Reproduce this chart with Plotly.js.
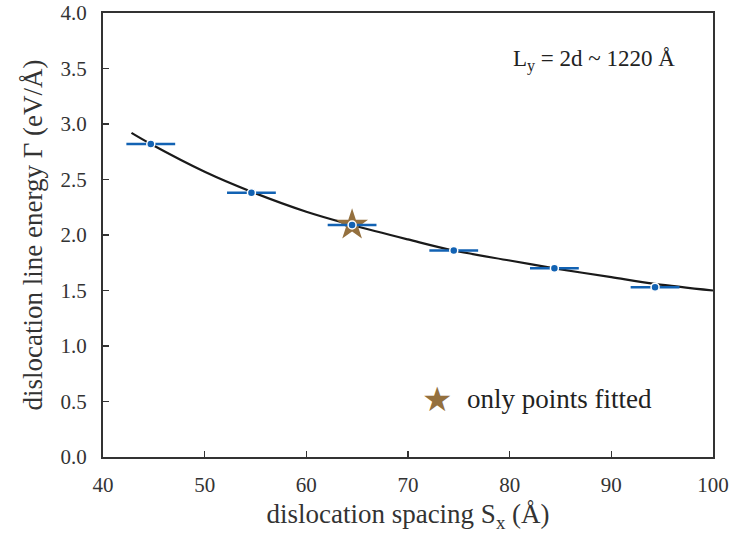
<!DOCTYPE html>
<html>
<head>
<meta charset="utf-8">
<script src="https://cdn.plot.ly/plotly-3.0.1.min.js"></script>
<style>html,body{margin:0;padding:0;background:#fff;}#chart{width:755px;height:534px;}</style>
</head>
<body>
<div id="chart"></div>
<script>
// measured data points
const spacing = [44.7, 54.6, 64.5, 74.5, 84.4, 94.3];
const energy = [2.82, 2.38, 2.09, 1.86, 1.70, 1.53];
const spacingErr = [2.4, 2.4, 2.4, 2.4, 2.4, 2.4];
// fitted curve
const fitX = [42.8, 44.7, 50, 54.6, 60, 64.5, 70, 74.5, 80, 84.4, 90, 94.3, 100];
const fitY = [2.92, 2.82, 2.57, 2.39, 2.21, 2.09, 1.96, 1.86, 1.77, 1.70, 1.62, 1.56, 1.50];
// point used in the "only points fitted" fit
const starX = [64.5];
const starY = [2.09];

const serif = 'Liberation Serif';
const blue = '#1262b3';
const brown = '#94703e';

const traces = [
  {x: fitX, y: fitY, mode: 'lines', line: {color: '#1a1a1a', width: 2.2, shape: 'spline'}, hoverinfo: 'skip'},
  {x: starX, y: starY, mode: 'markers', marker: {symbol: 'star', size: 24, color: brown}},
  {x: spacing, y: energy, mode: 'markers',
   marker: {color: blue, size: 8, line: {color: '#ffffff', width: 1.5}},
   error_x: {type: 'data', array: spacingErr, visible: true, color: blue, thickness: 2.5, width: 0}}
];

const layout = {
  width: 755, height: 534,
  margin: {l: 103, r: 42, t: 13, b: 77},
  paper_bgcolor: '#fff', plot_bgcolor: '#fff',
  showlegend: false,
  font: {family: serif, color: '#333'},
  xaxis: {
    range: [40, 100], dtick: 10, tick0: 40,
    showgrid: false, zeroline: false,
    showline: true, mirror: true, linecolor: '#333', linewidth: 2,
    ticks: 'inside', ticklen: 6, tickwidth: 1.5, tickcolor: '#333',
    ticklabelstandoff: 8,
    tickfont: {family: serif, size: 21, color: '#333'},
    title: {text: 'dislocation spacing S<sub>x</sub> (Å)', font: {family: serif, size: 27, color: '#333'}, standoff: 8}
  },
  yaxis: {
    range: [0, 4], dtick: 0.5, tick0: 0, tickformat: '.1f',
    showgrid: false, zeroline: false,
    showline: true, mirror: true, linecolor: '#333', linewidth: 2,
    ticks: 'inside', ticklen: 6, tickwidth: 1.5, tickcolor: '#333',
    ticklabelstandoff: 10,
    tickfont: {family: serif, size: 21, color: '#333'},
    title: {text: 'dislocation line energy Γ (eV/Å)', font: {family: serif, size: 27, color: '#333'}, standoff: 10}
  },
  annotations: [
    {xref: 'paper', yref: 'paper', x: 0.941, y: 0.894, xanchor: 'right', yanchor: 'middle',
     text: 'L<sub>y</sub> = 2d ~ 1220 Å', showarrow: false, font: {family: serif, size: 23, color: '#222'}},
    {xref: 'paper', yref: 'paper', x: 0.548, y: 0.131, xanchor: 'center', yanchor: 'middle',
     text: '★', showarrow: false, font: {family: 'DejaVu Sans', size: 34, color: brown}},
    {xref: 'paper', yref: 'paper', x: 0.593, y: 0.131, xanchor: 'left', yanchor: 'middle',
     text: 'only points fitted', showarrow: false, font: {family: serif, size: 27, color: '#222'}}
  ]
};

Plotly.newPlot('chart', traces, layout, {displayModeBar: false, staticPlot: true});
</script>
</body>
</html>
